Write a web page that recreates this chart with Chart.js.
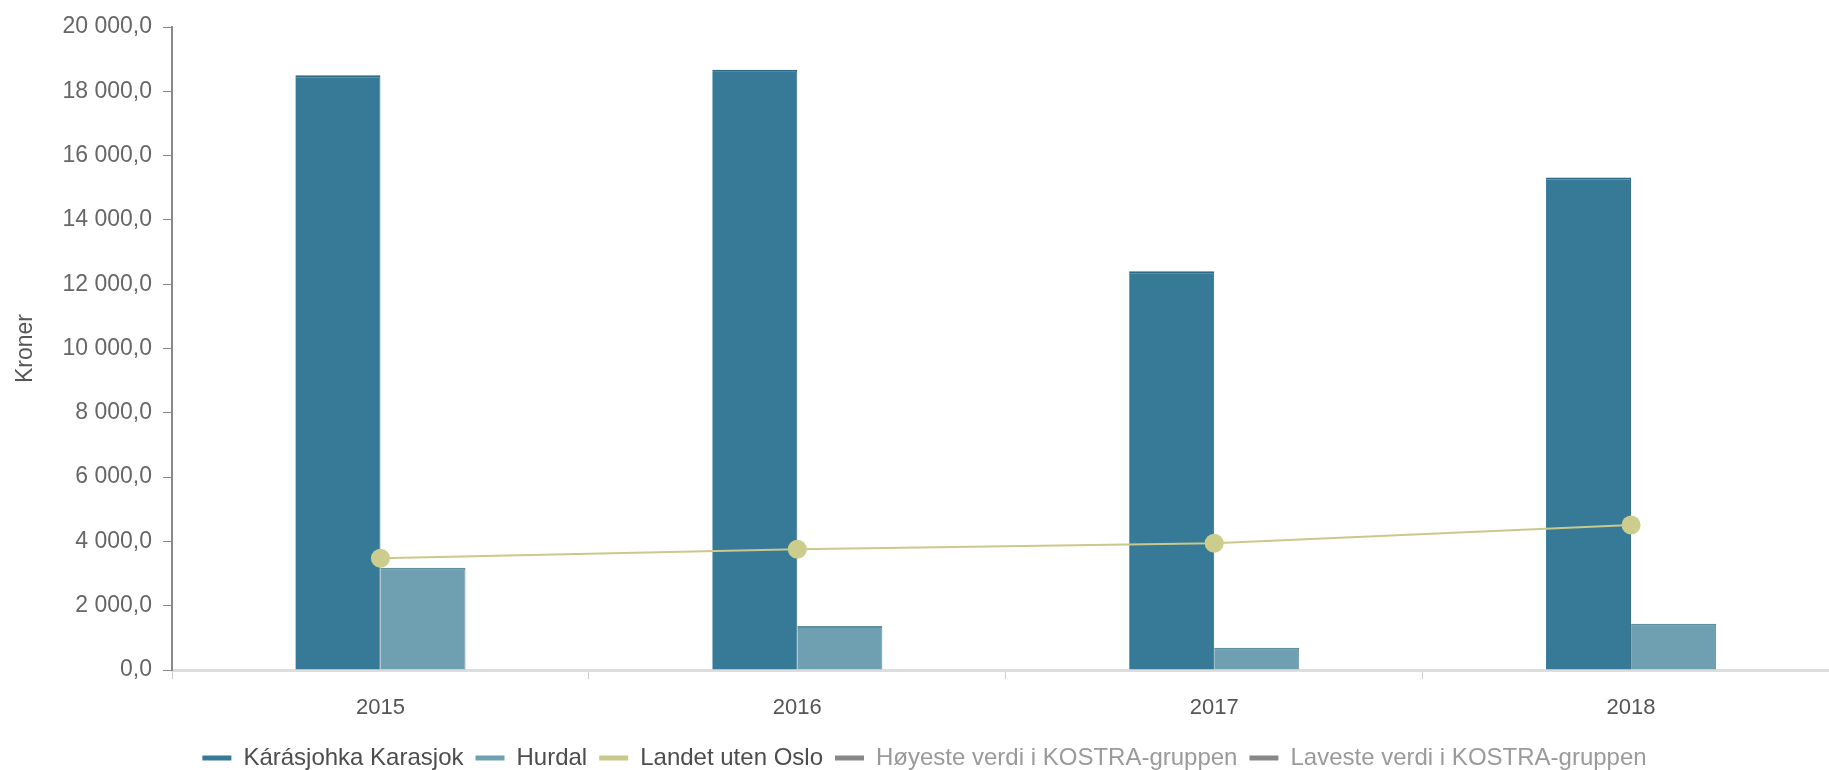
<!DOCTYPE html>
<html>
<head>
<meta charset="utf-8">
<script src="https://cdn.jsdelivr.net/npm/chart.js@4/dist/chart.umd.min.js"></script>
<style>
  html, body { margin: 0; padding: 0; background: #fff; overflow: hidden; }
  /* the reference plot runs a little past the right edge, so the canvas is wider than the window */
  #wrap { width: 1849px; height: 770px; }
</style>
</head>
<body>
<div id="wrap"><canvas id="chart"></canvas></div>
<script>
// Values
const years = ['2015', '2016', '2017', '2018'];
const karasjok = [18500, 18670, 12400, 15320];
const hurdal = [3180, 1370, 690, 1440];
const landetUtenOslo = [3475, 3755, 3940, 4510];
const yTicks = [0, 2000, 4000, 6000, 8000, 10000, 12000, 14000, 16000, 18000, 20000];

// "20 000,0" style
function formatKroner(v) {
    const parts = Math.abs(v).toFixed(1).split('.');
    const whole = parts[0].replace(/\B(?=(\d{3})+(?!\d))/g, ' ');
    return (v < 0 ? '-' : '') + whole + ',' + parts[1];
}

const FONT = '"Liberation Sans", Arial, sans-serif';

new Chart(document.getElementById('chart'), {
    data: {
        labels: years,
        datasets: [
            {
                type: 'line',
                label: 'Landet uten Oslo',
                data: landetUtenOslo,
                borderColor: '#c9c98b',
                backgroundColor: '#cccc8c',
                borderWidth: 2,
                pointRadius: 9.5,
                pointBorderWidth: 0,
                pointBackgroundColor: '#cccc8c',
                order: 0
            },
            {
                type: 'bar',
                label: 'Kárásjohka Karasjok',
                data: karasjok,
                backgroundColor: '#367a98',
                borderColor: '#2c6985',
                borderWidth: { top: 2, left: 0, right: 1, bottom: 0 },
                order: 1
            },
            {
                type: 'bar',
                label: 'Hurdal',
                data: hurdal,
                backgroundColor: '#6fa0b2',
                borderColor: '#5e8e9f',
                borderWidth: { top: 2, left: 0, right: 1, bottom: 0 },
                order: 2
            },
            {
                type: 'line',
                label: 'Høyeste verdi i KOSTRA-gruppen',
                data: [],
                borderColor: '#888888',
                backgroundColor: '#888888'
            },
            {
                type: 'line',
                label: 'Laveste verdi i KOSTRA-gruppen',
                data: [],
                borderColor: '#888888',
                backgroundColor: '#888888'
            }
        ]
    },
    options: {
        responsive: true,
        maintainAspectRatio: false,
        animation: false,
        datasets: {
            bar: { categoryPercentage: 0.408, barPercentage: 1.0 }
        },
        layout: { padding: { top: 27, right: 0, left: 0, bottom: -10 } },
        plugins: {
            tooltip: { enabled: false },
            legend: {
                position: 'bottom',
                labels: {
                    boxWidth: 29,
                    boxHeight: 5,
                    padding: 12,
                    font: { size: 24, family: FONT },
                    generateLabels: function(chart) {
                        const order = [1, 2, 0, 3, 4];
                        return order.map(function(i) {
                            const ds = chart.data.datasets[i];
                            return {
                                text: ds.label,
                                fillStyle: ds.type === 'bar' ? ds.backgroundColor : ds.borderColor,
                                strokeStyle: 'transparent',
                                lineWidth: 0,
                                fontColor: i >= 3 ? '#9a9a9a' : '#4d4d4d',
                                datasetIndex: i,
                                hidden: false
                            };
                        });
                    }
                }
            }
        },
        scales: {
            x: {
                grid: {
                    display: true,
                    drawOnChartArea: false,
                    drawTicks: true,
                    tickLength: 9,
                    color: '#cccccc',
                    offset: true
                },
                border: { display: true, color: '#dddddd', width: 3 },
                ticks: {
                    color: '#555555',
                    padding: 16,
                    font: { size: 22, family: FONT }
                },
                afterFit: function(scale) { scale.height = 64; }
            },
            y: {
                min: 0,
                max: 20000,
                afterBuildTicks: function(scale) {
                    scale.ticks = yTicks.map(function(v) { return { value: v }; });
                },
                grid: {
                    display: true,
                    drawOnChartArea: false,
                    drawTicks: true,
                    tickLength: 9,
                    color: '#888888'
                },
                border: { display: true, color: '#888888', width: 2 },
                ticks: {
                    color: '#666666',
                    padding: 11,
                    font: { size: 23, family: FONT },
                    callback: function(v) { return formatKroner(v); }
                },
                title: {
                    display: true,
                    text: 'Kroner',
                    color: '#555555',
                    padding: { top: 12, bottom: 10 },
                    font: { size: 23, family: FONT }
                },
                afterFit: function(scale) { scale.width = 172; }
            }
        }
    }
});
</script>
</body>
</html>
